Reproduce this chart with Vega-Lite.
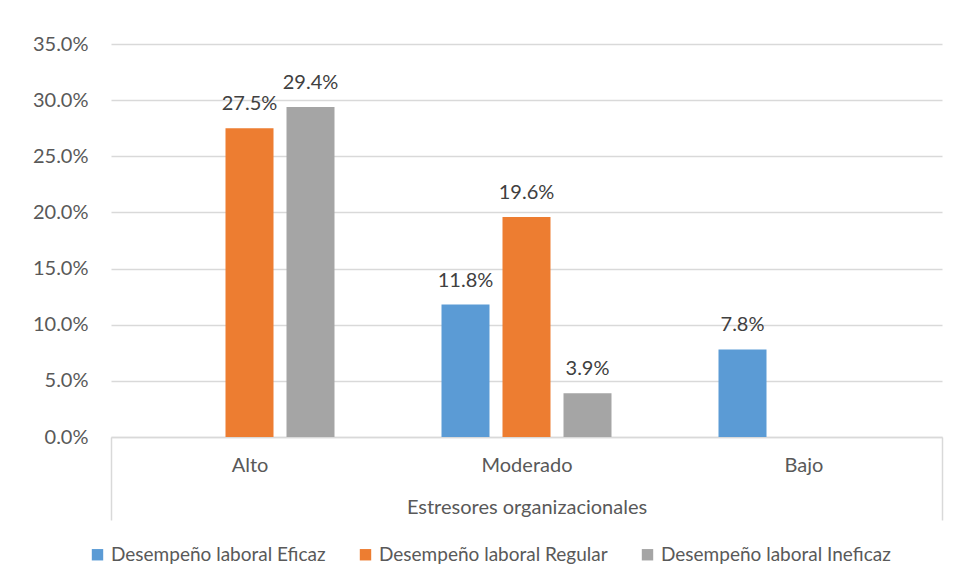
{
  "$schema": "https://vega.github.io/schema/vega-lite/v6.json",
  "width": 831,
  "height": 393,
  "autosize": "none",
  "padding": {"left": 111, "top": 44, "right": 17, "bottom": 149},
  "background": "white",
  "config": {
    "font": "Lato",
    "view": {"stroke": null}
  },
  "data": {
    "values": [
      {"nivel": "Alto", "serie": "Desempeño laboral Regular", "pct": 0.275},
      {"nivel": "Alto", "serie": "Desempeño laboral Ineficaz", "pct": 0.294},
      {"nivel": "Moderado", "serie": "Desempeño laboral Eficaz", "pct": 0.118},
      {"nivel": "Moderado", "serie": "Desempeño laboral Regular", "pct": 0.196},
      {"nivel": "Moderado", "serie": "Desempeño laboral Ineficaz", "pct": 0.039},
      {"nivel": "Bajo", "serie": "Desempeño laboral Eficaz", "pct": 0.078}
    ]
  },
  "encoding": {
    "x": {
      "field": "nivel",
      "type": "nominal",
      "sort": ["Alto", "Moderado", "Bajo"],
      "scale": {"domain": ["Alto", "Moderado", "Bajo"], "paddingInner": 0, "paddingOuter": 0},
      "axis": {
        "title": "Estresores organizacionales",
        "titleFont": "Lato",
        "titleFontSize": 20,
        "titleFontWeight": "normal",
        "titleColor": "#595959",
        "titleY": 70,
        "titleBaseline": "middle",
        "labelAngle": 0,
        "labelFontSize": 20,
        "labelColor": "#595959",
        "labelPadding": -65,
        "domainColor": "#d9d9d9",
        "domainWidth": 1.5,
        "tickBand": "extent",
        "tickSize": 83,
        "tickColor": "#d9d9d9",
        "tickWidth": 1.5,
        "tickOpacity": {"condition": {"test": "datum.extra || datum.value === 'Bajo'", "value": 1}, "value": 0},
        "grid": false
      }
    },
    "xOffset": {
      "field": "serie",
      "type": "nominal",
      "scale": {
        "domain": ["Desempeño laboral Eficaz", "Desempeño laboral Regular", "Desempeño laboral Ineficaz"],
        "paddingInner": 0.213,
        "paddingOuter": 0.877
      }
    },
    "y": {
      "field": "pct",
      "type": "quantitative",
      "scale": {"domain": [0, 0.35], "nice": false},
      "axis": {
        "title": null,
        "values": [0, 0.05, 0.1, 0.15, 0.2, 0.25, 0.3, 0.35],
        "format": ".1%",
        "labelFontSize": 20,
        "labelColor": "#595959",
        "labelPadding": 23,
        "ticks": false,
        "domain": false,
        "gridColor": "#d9d9d9",
        "gridWidth": 1.5
      }
    }
  },
  "layer": [
    {
      "mark": {"type": "bar"},
      "encoding": {
        "color": {
          "field": "serie",
          "type": "nominal",
          "scale": {
            "domain": ["Desempeño laboral Eficaz", "Desempeño laboral Regular", "Desempeño laboral Ineficaz"],
            "range": ["#5B9BD5", "#ED7D31", "#A5A5A5"]
          },
          "legend": {
            "title": null,
            "orient": "none",
            "direction": "horizontal",
            "columns": 3,
            "legendX": -23,
            "legendY": 501,
            "padding": 0,
            "symbolType": "square",
            "symbolSize": 130,
            "symbolStrokeWidth": 0,
            "symbolOpacity": 1,
            "labelFontSize": 19,
            "labelLimit": 400,
            "labelColor": "#595959",
            "labelOffset": 4,
            "columnPadding": 30
          }
        }
      }
    },
    {
      "mark": {"type": "text", "dy": -18, "baseline": "alphabetic", "fontSize": 20, "color": "#404040"},
      "encoding": {
        "text": {"field": "pct", "type": "quantitative", "format": ".1%"}
      }
    }
  ]
}
